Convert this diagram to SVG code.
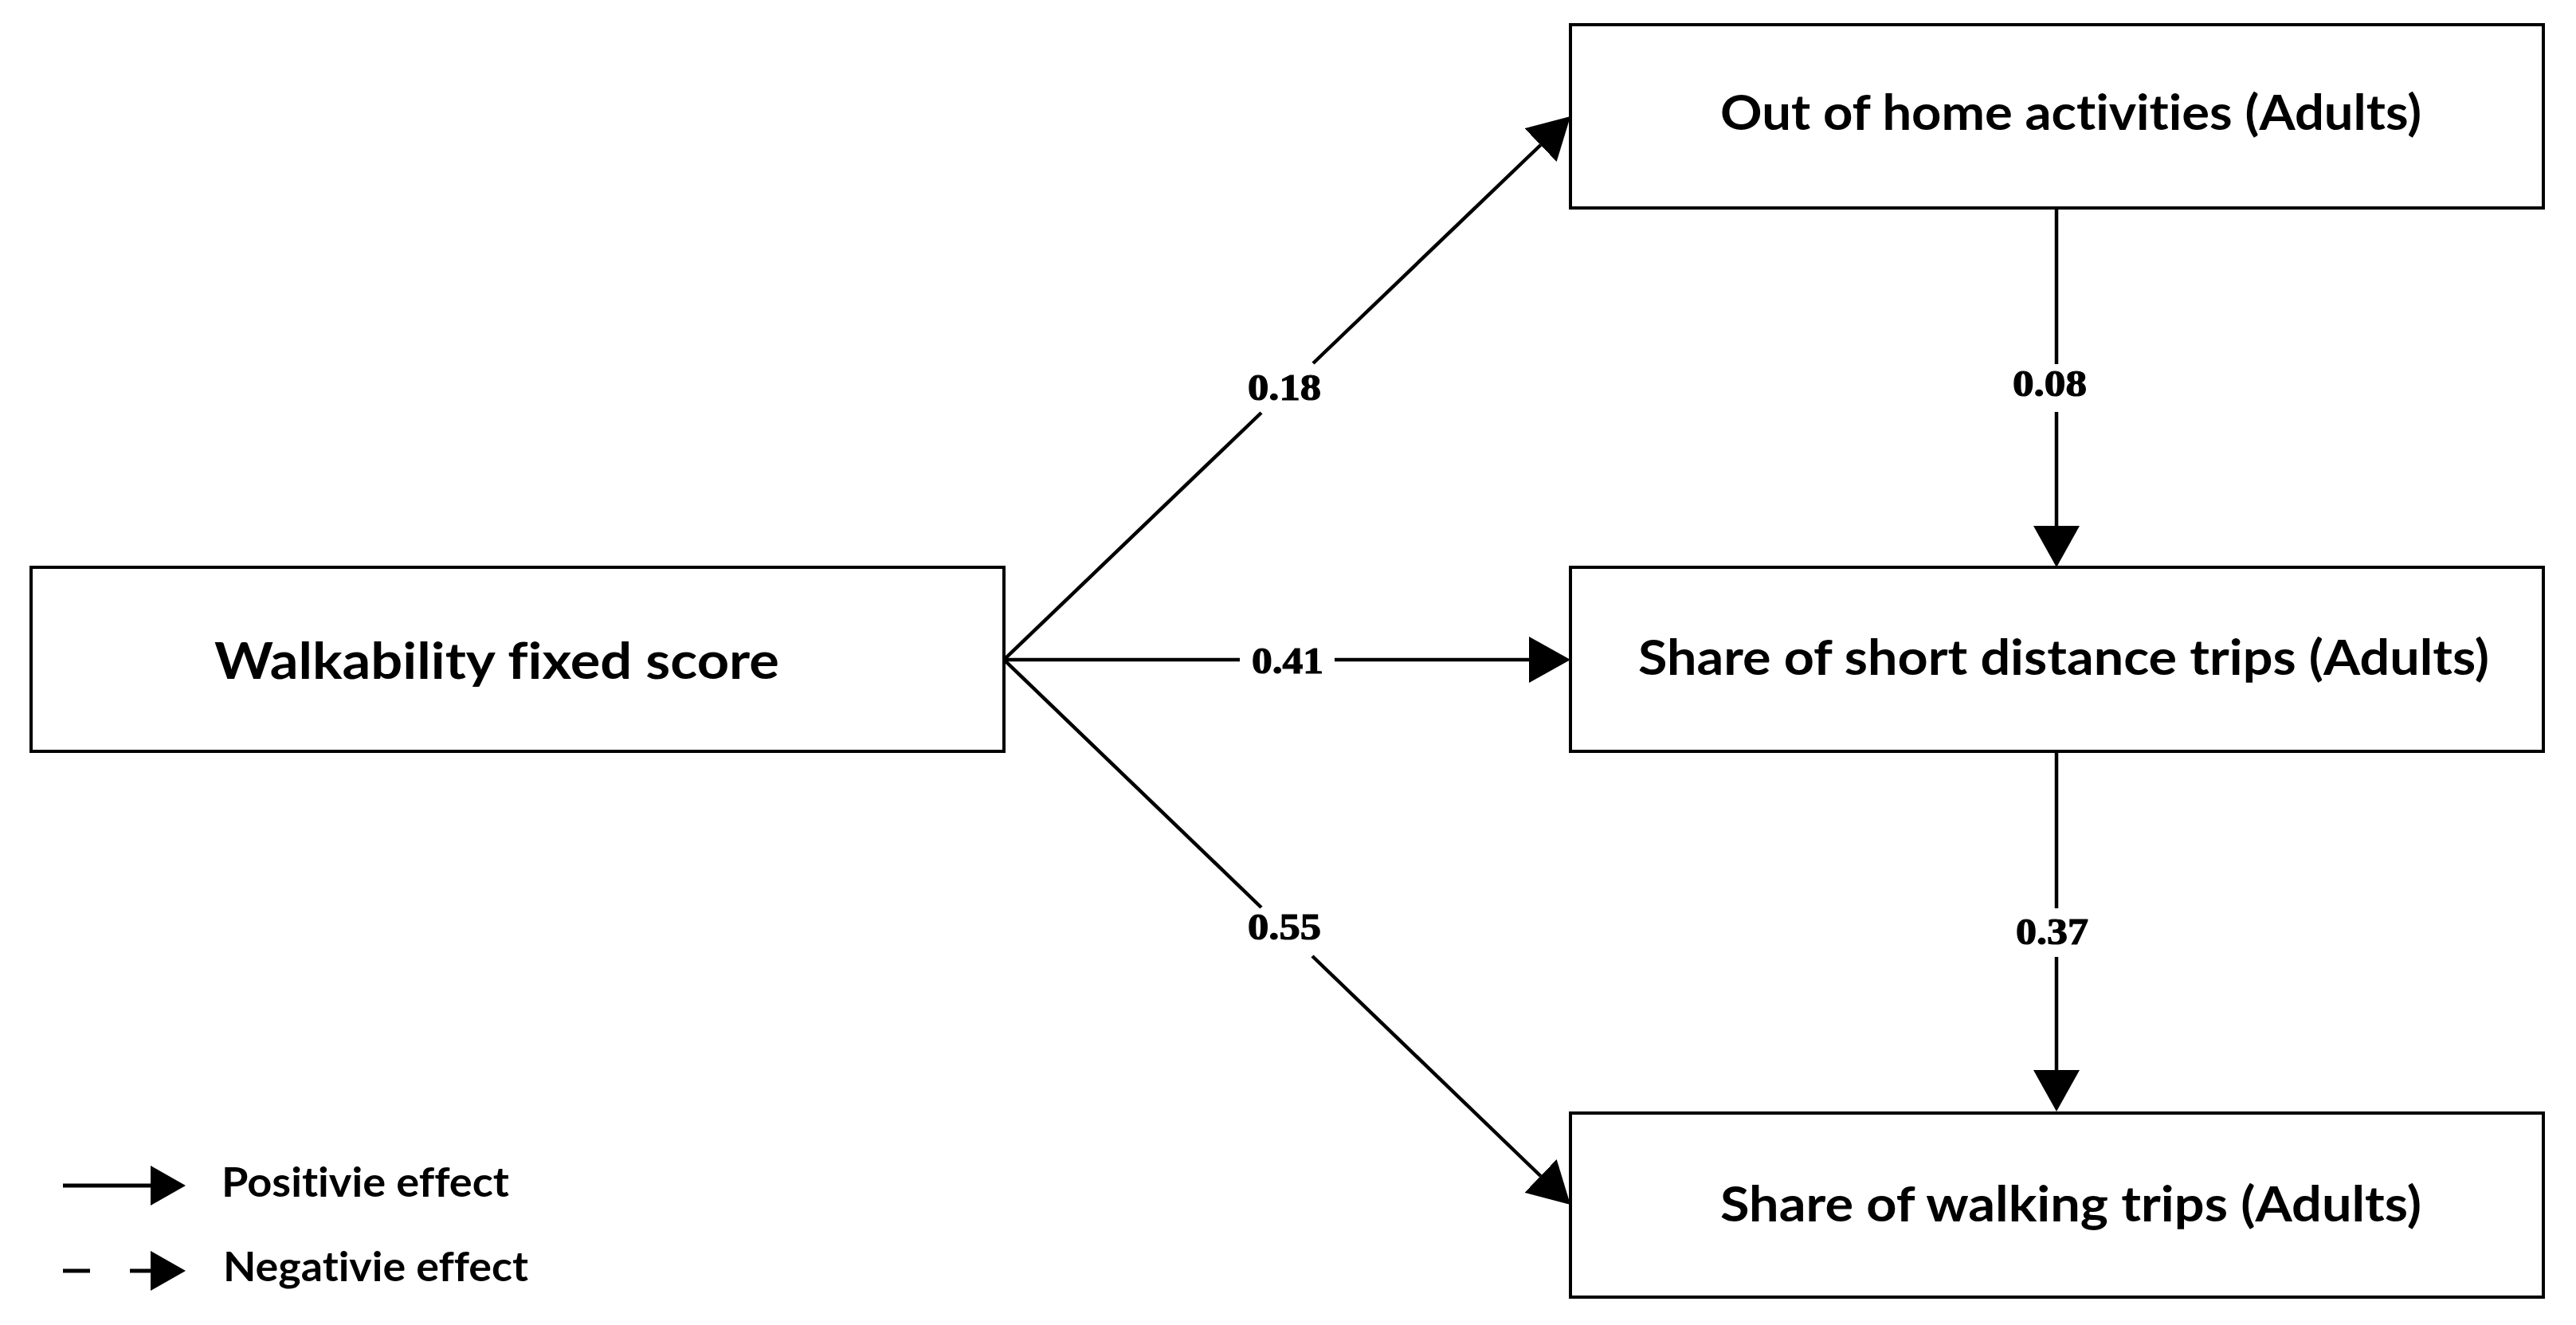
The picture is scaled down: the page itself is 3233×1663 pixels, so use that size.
<svg xmlns="http://www.w3.org/2000/svg" width="3233" height="1663" viewBox="0 0 3233 1663">
<style>
.box{fill:#fff;stroke:#000;stroke-width:4}
.node{font-family:Lato,"Noto Sans","Liberation Sans",sans-serif;font-weight:bold;fill:#000;font-variant-ligatures:none}
.edge{fill:none;stroke:#000;stroke-width:4.5}
.lbl{font-family:"Liberation Serif","DejaVu Serif",serif;font-weight:bold;font-size:46px;fill:#000;stroke:#000;stroke-width:1.2}
.leg{font-family:Lato,"Noto Sans","Liberation Sans",sans-serif;font-weight:bold;font-size:51px;fill:#000;font-variant-ligatures:none}
</style>
<defs>
<marker id="ah" markerUnits="userSpaceOnUse" markerWidth="52" markerHeight="58" refX="0" refY="29" orient="auto" viewBox="0 0 52 58">
<path d="M0,0 L52,29 L0,58 Z" fill="#000"/>
</marker>
<marker id="ahs" markerUnits="userSpaceOnUse" markerWidth="44" markerHeight="50" refX="0" refY="25" orient="auto" viewBox="0 0 44 50">
<path d="M0,0 L44,25 L0,50 Z" fill="#000"/>
</marker>
</defs>
<rect width="3233" height="1663" fill="#fff"/>
<g id="node-walkability">
<rect class="box" x="39" y="712" width="1221" height="231"/>
<text class="node" x="269" y="852" font-size="64" textLength="709" lengthAdjust="spacingAndGlyphs">Walkability fixed score</text>
</g>
<g id="node-outofhome">
<rect class="box" x="1971" y="31" width="1221" height="230"/>
<text class="node" x="2159" y="163" font-size="61" textLength="880" lengthAdjust="spacingAndGlyphs">Out of home activities (Adults)</text>
</g>
<g id="node-shortdistance">
<rect class="box" x="1971" y="712" width="1221" height="231"/>
<text class="node" x="2056" y="847" font-size="61" textLength="1068" lengthAdjust="spacingAndGlyphs">Share of short distance trips (Adults)</text>
</g>
<g id="node-walking">
<rect class="box" x="1971" y="1397" width="1221" height="231"/>
<text class="node" x="2159" y="1533" font-size="61" textLength="880" lengthAdjust="spacingAndGlyphs">Share of walking trips (Adults)</text>
</g>
<g id="connectors">
<path class="edge" d="M1260,828 L1583,518 M1648,456 L1933.5,182" marker-end="url(#ah)"/>
<path class="edge" d="M1260,828 L1556,828 M1675,828 L1919,828" marker-end="url(#ah)"/>
<path class="edge" d="M1260,828 L1583,1139 M1647,1200 L1933.5,1476" marker-end="url(#ah)"/>
<path class="edge" d="M2581,261 L2581,457 M2581,517 L2581,660" marker-end="url(#ah)"/>
<path class="edge" d="M2581,943 L2581,1140 M2581,1201 L2581,1343" marker-end="url(#ah)"/>
<text class="lbl" x="1566" y="502" textLength="92" lengthAdjust="spacingAndGlyphs">0.18</text>
<text class="lbl" x="1571" y="845" textLength="90" lengthAdjust="spacingAndGlyphs">0.41</text>
<text class="lbl" x="1566" y="1179" textLength="92" lengthAdjust="spacingAndGlyphs">0.55</text>
<text class="lbl" x="2526" y="497" textLength="93" lengthAdjust="spacingAndGlyphs">0.08</text>
<text class="lbl" x="2530" y="1185" textLength="91" lengthAdjust="spacingAndGlyphs">0.37</text>
</g>
<g id="legend">
<line x1="79" y1="1488" x2="189" y2="1488" stroke="#000" stroke-width="5" marker-end="url(#ahs)"/>
<text class="leg" x="278" y="1502" textLength="361" lengthAdjust="spacingAndGlyphs">Positivie effect</text>
<line x1="79" y1="1595" x2="189" y2="1595" stroke="#000" stroke-width="5" stroke-dasharray="34 50" marker-end="url(#ahs)"/>
<text class="leg" x="280" y="1608" textLength="383" lengthAdjust="spacingAndGlyphs">Negativie effect</text>
</g>
</svg>
